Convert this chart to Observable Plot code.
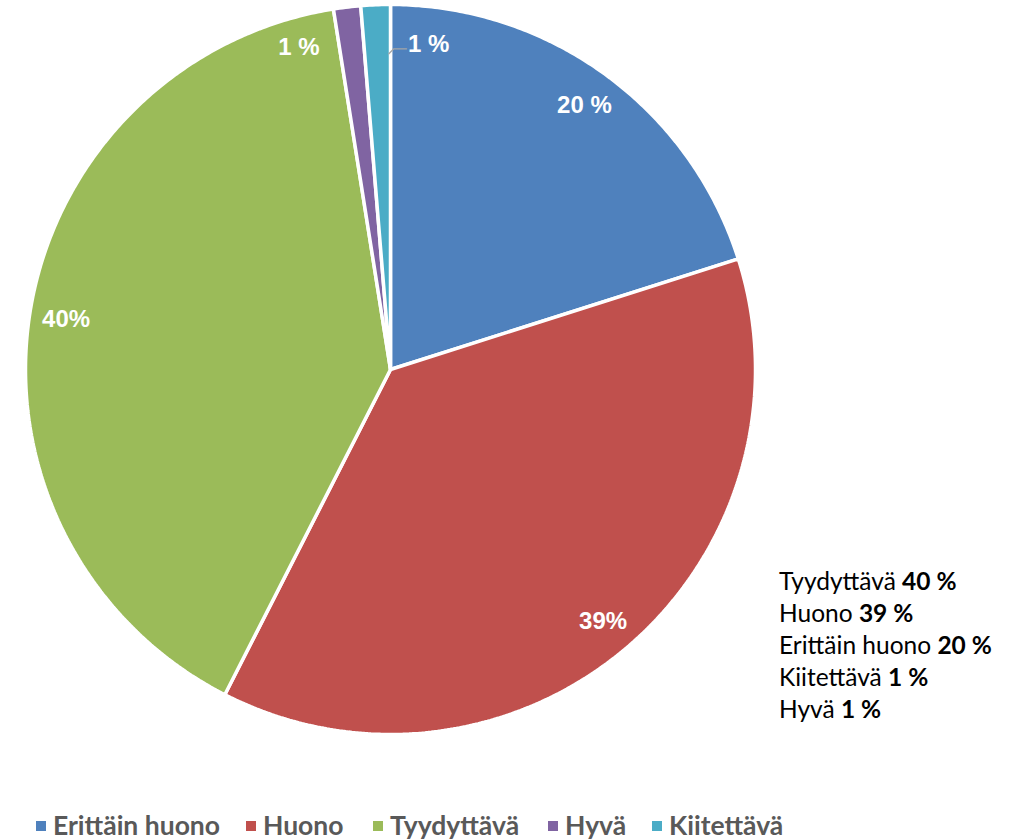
<!DOCTYPE html>
<html><head><meta charset="utf-8">
<script src="https://cdn.jsdelivr.net/npm/d3@7"></script>
<script src="https://cdn.jsdelivr.net/npm/@observablehq/plot@0.6"></script>
<style>
body{margin:0;background:#fff;width:1020px;height:839px;overflow:hidden;position:relative;font-family:Lato,"Open Sans",sans-serif;}
#chart{position:absolute;left:0;top:0;}
#box{position:absolute;left:779px;top:565px;font-family:Lato,sans-serif;font-size:24.5px;line-height:32px;color:#000;}
#legend{position:absolute;left:0;top:809px;height:32px;font-family:Lato,sans-serif;font-weight:bold;font-size:26.5px;color:#595959;}
.li{position:absolute;top:0;white-space:nowrap;line-height:32px;}
.sw{position:absolute;width:10px;height:10px;top:12px;}
</style></head>
<body>
<div id="chart"></div>
<div id="box"></div>
<div id="legend"></div>
<script>
// Slices, clockwise from 12 o'clock
const categories = ["Erittäin huono", "Huono", "Tyydyttävä", "Hyvä", "Kiitettävä"];
const shares = [20.1, 37.4, 40.0, 1.2, 1.3];           // slice sizes
const sliceLabels = ["20 %", "39%", "40%", "1 %", "1 %"];
const colors = ["#4F81BD", "#C0504D", "#9BBB59", "#8064A2", "#4BACC6"];
// Text box
const boxNames = ["Tyydyttävä", "Huono", "Erittäin huono", "Kiitettävä", "Hyvä"];
const boxValues = ["40 %", "39 %", "20 %", "1 %", "1 %"];

const total = d3.sum(shares);
const polar = (deg, r) => {
  const a = deg * Math.PI / 180;
  return {x: r * Math.sin(a), y: r * Math.cos(a)};
};

// build slice outlines
const pts = [];
const labels = [];
let start = 0;
categories.forEach((name, i) => {
  const span = shares[i] / total * 360;
  const end = start + span;
  pts.push({name, ...polar(0, 0)});
  const n = Math.max(4, Math.ceil(span / 0.5));
  for (let k = 0; k <= n; k++) pts.push({name, ...polar(start + span * k / n, 1)});
  pts.push({name, ...polar(0, 0)});
  const mid = (start + end) / 2;
  labels.push({name, text: sliceLabels[i], mid, start, end});
  start = end;
});

// label placement
const labelPos = labels.map((l, i) => {
  let p;
  if (i === 3) p = polar(l.mid - 9, 0.92);          // Hyvä: placed left of its slice
  else if (i === 4) p = polar(l.mid + 9, 0.9);       // Kiitettävä: placed right, with leader
  else p = polar(l.mid, 0.9);
  return {...l, ...p};
});
const k4 = labelPos[4];
const l0 = polar(labels[4].end - 0.3, 0.865);
const leader = [
  l0,
  {x: l0.x + 5 / 365, y: l0.y + 5 / 365},
  {x: k4.x - 22 / 365, y: l0.y + 5 / 365}
];

const plot = Plot.plot({
  width: 1020,
  height: 790,
  x: {domain: [-1, 1], range: [25, 755], axis: null},
  y: {domain: [-1, 1], range: [734, 4], axis: null},
  color: {domain: categories, range: colors},
  marks: [
    Plot.line(pts, {x: "x", y: "y", z: "name", fill: "name", stroke: "white", strokeWidth: 3.5, strokeLinejoin: "miter"}),
    Plot.line(leader, {x: "x", y: "y", stroke: "#A6A6A6", strokeWidth: 1.3}),
    Plot.text(labelPos, {x: "x", y: "y", text: "text", fill: "white", fontSize: 24, fontWeight: "bold",
      fontFamily: "Liberation Sans, Arial, sans-serif", textAnchor: "middle", dy: 1})
  ]
});
document.getElementById("chart").appendChild(plot);

// text box
const box = document.getElementById("box");
boxNames.forEach((n, i) => {
  const d = document.createElement("div");
  d.innerHTML = `${n} <b>${boxValues[i]}</b>`;
  box.appendChild(d);
});

// legend
const legendX = [36, 246, 373, 548, 652];
const lg = document.getElementById("legend");
categories.forEach((c, i) => {
  const s = document.createElement("div");
  s.className = "sw"; s.style.left = legendX[i] + "px"; s.style.background = colors[i];
  lg.appendChild(s);
  const t = document.createElement("div");
  t.className = "li"; t.style.left = (legendX[i] + 17) + "px"; t.textContent = c;
  lg.appendChild(t);
});
</script>
</body></html>
